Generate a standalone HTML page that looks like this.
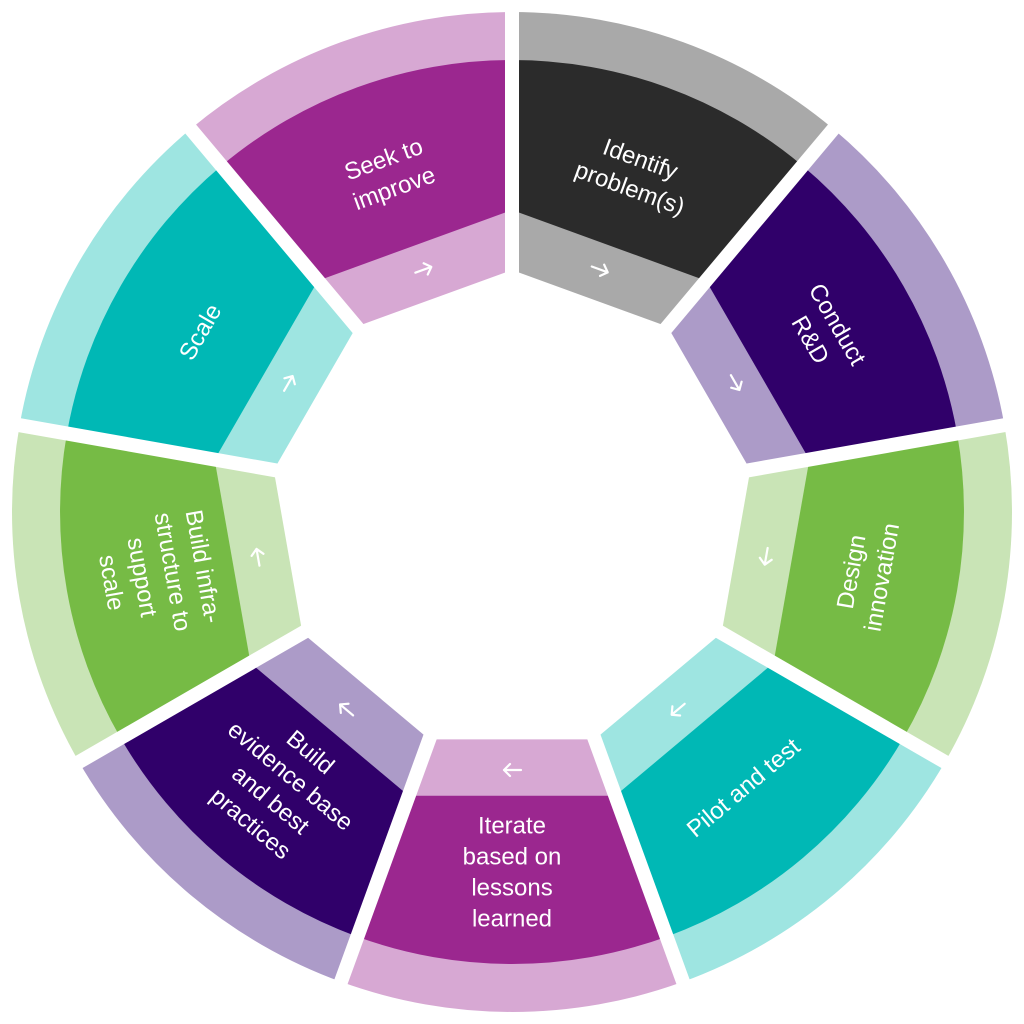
<!DOCTYPE html>
<html><head><meta charset="utf-8"><style>
html,body{margin:0;padding:0;background:#fff;width:1024px;height:1024px;overflow:hidden}
svg{display:block}
text{font-family:"Liberation Sans",sans-serif;font-size:24px;fill:#fff}
</style></head><body>
<svg id="s" width="1024" height="1024" viewBox="0 0 1024 1024" xmlns="http://www.w3.org/2000/svg"></svg>
<script>
const C=512,svg=document.getElementById('s'),NS='http://www.w3.org/2000/svg';
function P(r,a){const t=a*Math.PI/180;return [(C+r*Math.sin(t)).toFixed(1),(C-r*Math.cos(t)).toFixed(1)];}
function el(n,at,txt){const e=document.createElementNS(NS,n);for(const k in at)e.setAttribute(k,at[k]);if(txt!=null)e.textContent=txt;svg.appendChild(e);return e;}
const segs=[
 {l:'#a9a9a9',d:'#2b2b2b',t:['Identify','problem(s)']},
 {l:'#ac9bc8',d:'#30006a',t:['Conduct','R&D']},
 {l:'#c9e4b6',d:'#76bb45',t:['Design','innovation']},
 {l:'#9ee5e1',d:'#00b8b5',t:['Pilot and test']},
 {l:'#d7a8d3',d:'#9b278f',t:['Iterate','based on','lessons','learned']},
 {l:'#ac9bc8',d:'#30006a',t:['Build','evidence base','and best','practices']},
 {l:'#c9e4b6',d:'#76bb45',t:['Build infra-','structure to','support','scale']},
 {l:'#9ee5e1',d:'#00b8b5',t:['Scale']},
 {l:'#d7a8d3',d:'#9b278f',t:['Seek to','improve']}
];
segs.forEach((s,i)=>{
 const a0=i*40,a1=a0+40,am=a0+20;
 let p=[P(242,a0),P(500,a0),P(500,a1),P(242,a1)];
 el('path',{d:`M${p[0]}L${p[1]}A500 500 0 0 1 ${p[2]}L${p[3]}Z`,fill:s.l});
 p=[P(302,a0),P(452,a0),P(452,a1),P(302,a1)];
 el('path',{d:`M${p[0]}L${p[1]}A452 452 0 0 1 ${p[2]}L${p[3]}Z`,fill:s.d});
 const ap=P(258,am);
 const g=el('g',{transform:`translate(${ap[0]},${ap[1]}) rotate(${am})`});
 const a=document.createElementNS(NS,'path');
 a.setAttribute('d','M-9 0H8M2-6L8 0L2 6');a.setAttribute('stroke','#fff');a.setAttribute('stroke-width','2.2');a.setAttribute('fill','none');a.setAttribute('stroke-linecap','round');a.setAttribute('stroke-linejoin','round');
 g.appendChild(a);
 let rot=am>90&&am<=270?am-180:(am>270?am-360:am);
 const tp=P(360,am);
 const tg=el('g',{transform:`translate(${tp[0]},${tp[1]}) rotate(${rot})`});
 const n=s.t.length,lh=31;
 s.t.forEach((line,k)=>{
  const t=document.createElementNS(NS,'text');
  t.setAttribute('x',0);t.setAttribute('y',((k-(n-1)/2)*lh+8).toFixed(1));
  t.setAttribute('text-anchor','middle');t.textContent=line;tg.appendChild(t);
 });
});
for(let i=0;i<9;i++){const q=P(520,i*40);el('line',{x1:C,y1:C,x2:q[0],y2:q[1],stroke:'#fff','stroke-width':14});}
</script>
</body></html>
